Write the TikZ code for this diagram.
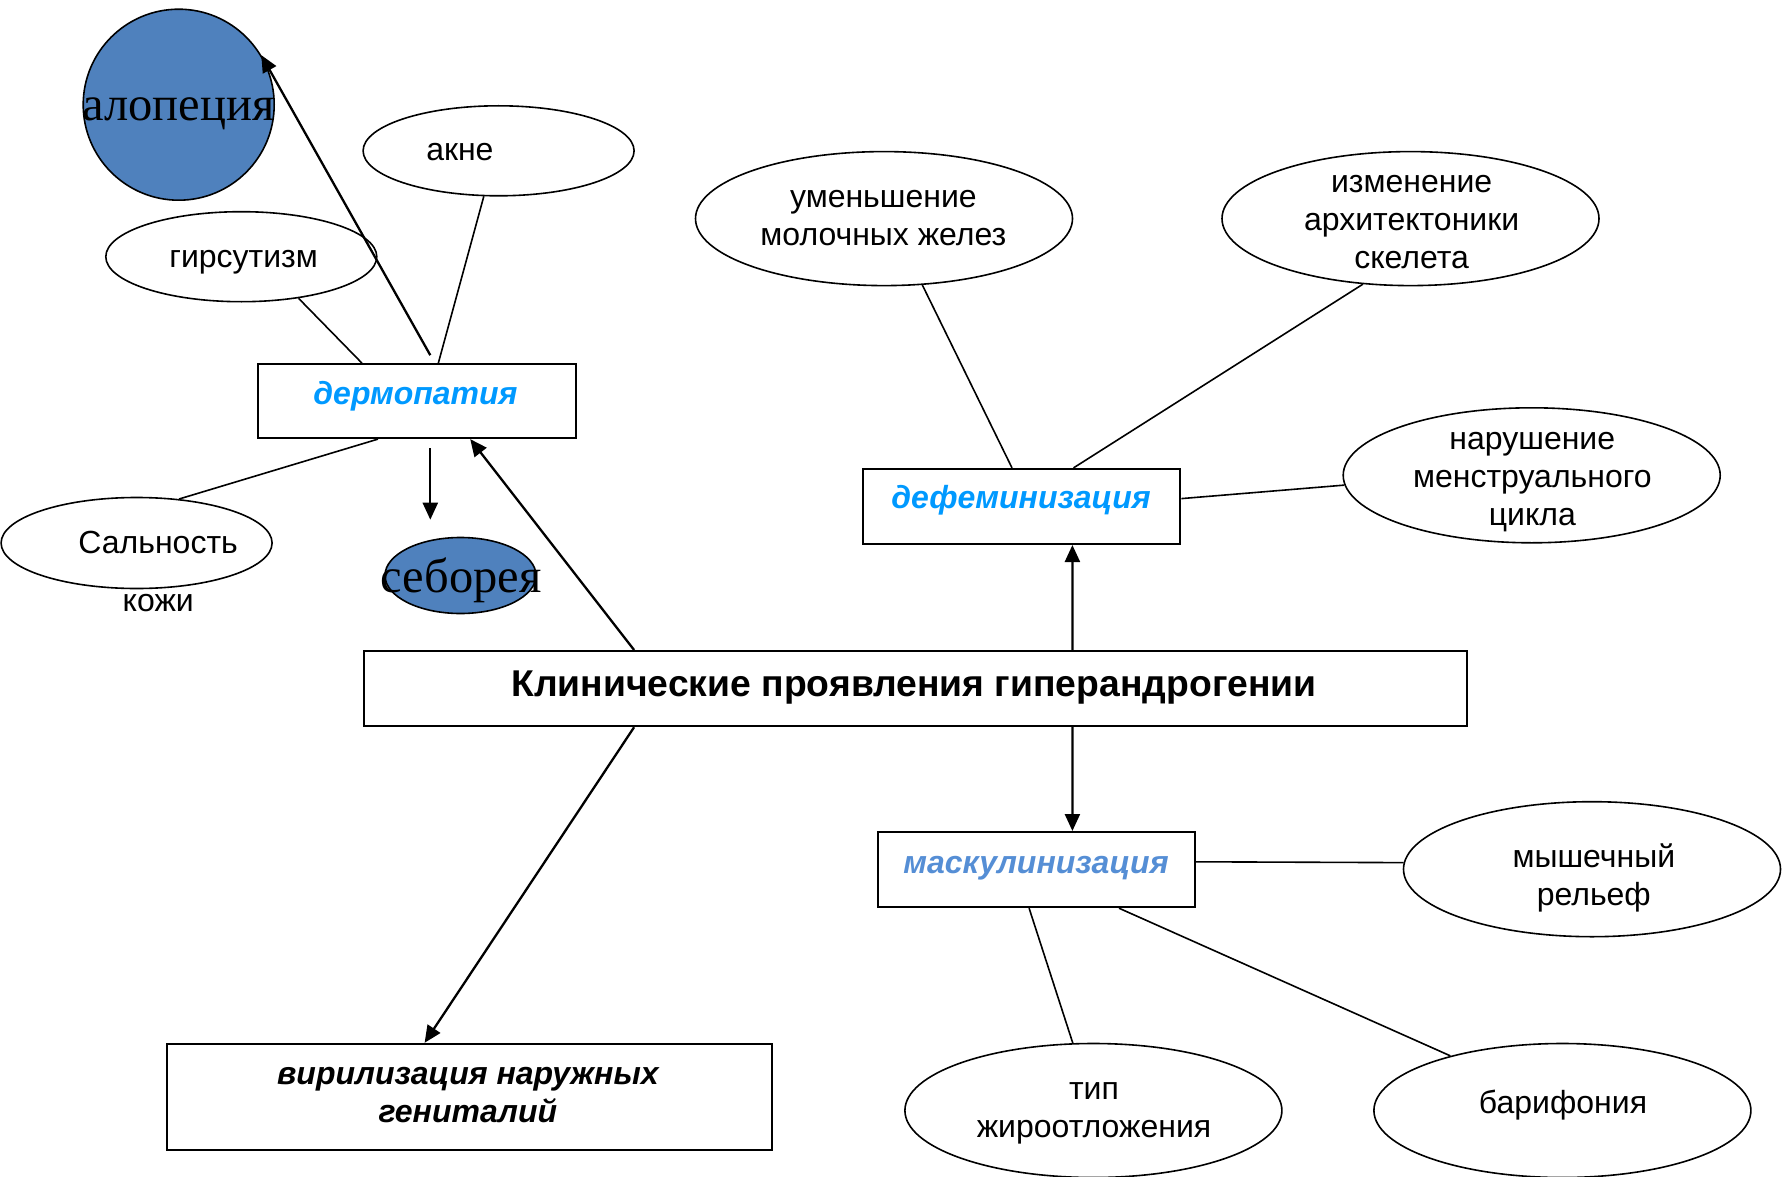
\documentclass[tikz,border=0pt]{standalone}
\usepackage{fontspec}
\setmainfont{Liberation Sans}
\newfontfamily\serifx{Liberation Serif}
\usetikzlibrary{arrows.meta,shapes.geometric}
\definecolor{fillblue}{HTML}{4F81BD}
\definecolor{skyblue}{HTML}{0099FF}
\definecolor{mascblue}{HTML}{558ED5}
\begin{document}
\begin{tikzpicture}[x=1pt,y=-1pt,
  box/.style={draw, line width=2pt, inner sep=0pt, anchor=north west},
  oval/.style={draw, ellipse, line width=1.6pt, inner sep=0pt},
  bluedot/.style={oval, fill=fillblue},
  lbl/.style={font=\fontsize{32}{38}\selectfont, align=center, inner sep=0pt, anchor=base},
  hdr/.style={font=\fontsize{32}{38}\selectfont\bfseries\itshape, align=center, inner sep=0pt, anchor=base},
  big/.style={font=\fontsize{48.5}{58}\serifx, inner sep=0pt, anchor=base},
  link/.style={line width=1.6pt},
  arr/.style={line width=2.3pt, -{Triangle[length=17pt,width=15pt]}},
]
\useasboundingbox (0,0) rectangle (1785,1177);

% ---- shapes ----
\node[bluedot, minimum size=191pt] (alop) at (178.7,104.7) {};
\node[oval, minimum width=271pt, minimum height=90pt] (acne) at (498.6,150.8) {};
\node[oval, minimum width=271pt, minimum height=90pt] (hirs) at (241.3,256.7) {};
\node[oval, minimum width=271pt, minimum height=91pt] (sal) at (136.6,543) {};
\node[bluedot, minimum width=151pt, minimum height=76pt] (seb) at (460.5,575.5) {};
\node[oval, minimum width=377pt, minimum height=134pt] (mam) at (884,218.6) {};
\node[oval, minimum width=377pt, minimum height=134pt] (arch) at (1410.5,218.6) {};
\node[oval, minimum width=377pt, minimum height=135pt] (mens) at (1531.7,475.3) {};
\node[oval, minimum width=377pt, minimum height=135pt] (musc) at (1592,869.2) {};
\node[oval, minimum width=377pt, minimum height=134pt] (fat) at (1093.4,1110.5) {};
\node[oval, minimum width=377pt, minimum height=134pt] (bary) at (1562.4,1110.5) {};

\node[box, minimum width=317.6pt, minimum height=73.9pt] (derm) at (257.3,363.2) {};
\node[box, minimum width=317.6pt, minimum height=75.1pt] (defem) at (861.8,467.9) {};
\node[box, minimum width=317.6pt, minimum height=75.2pt] (masc) at (876.6,831) {};
\node[box, minimum width=1103pt, minimum height=75.2pt] (main) at (363.2,650) {};
\node[box, minimum width=604.5pt, minimum height=105.8pt] (viril) at (166.2,1042.8) {};

% ---- texts ----
\node[big] (alopT) at (178.5,121) {алопеция};
\node[big] (sebT) at (461,592) {себорея};
\node[lbl] (acneT) at (459.9,160.8) {акне};
\node[lbl] (hirsT) at (243.6,267.8) {гирсутизм};
\node[lbl] (salT) at (158.2,553.3) {Сальность};
\node[lbl] (salT2) at (158.2,611.3) {кожи};
\node[lbl] (mamT) at (883.4,245.3) {уменьшение\\молочных желез};
\node[lbl] (archT) at (1411.6,268.3) {изменение\\архитектоники\\скелета};
\node[lbl] (mensT) at (1532.3,525.8) {нарушение\\менструального\\цикла};
\node[lbl] (muscT) at (1593.8,905.6) {мышечный\\рельеф};
\node[lbl] (fatT) at (1094,1137.8) {тип\\жироотложения};
\node[lbl] (baryT) at (1563,1113.3) {барифония};
\node[hdr, text=skyblue] (dermT) at (415.5,404) {дермопатия};
\node[hdr, text=skyblue] (defemT) at (1021.1,508.8) {дефеминизация};
\node[hdr, text=mascblue] (mascT) at (1036,873.1) {маскулинизация};
\node[hdr] (virilT) at (467.9,1122.8) {вирилизация наружных\\гениталий};
\node[font=\fontsize{37.3}{42}\selectfont\bfseries, inner sep=0pt, anchor=base] (mainT) at (914.1,696.3) {Клинические проявления гиперандрогении};

% ---- connectors ----
\coordinate (sebTop) at ([xshift=-30.2pt,yshift=17pt]seb.north);
\draw[link] (hirs.-36) -- ([xshift=104.7pt]derm.north west);
\draw[link] (acne.252) -- ([xshift=181pt]derm.north west);
\draw[arr] ([xshift=173pt,yshift=8pt]derm.north west) -- (alop.31);
\draw[link] (sal.46) -- ([xshift=120.7pt]derm.south west);
\draw[arr] ([xshift=173pt,yshift=-9.2pt]derm.south west) -- (sebTop);
\draw[arr] ([xshift=270.9pt]main.north west) -- ([xshift=212.9pt]derm.south west);
\draw[arr] ([xshift=709.2pt]main.north west) -- ([xshift=210.6pt]defem.south west);
\draw[link] (mam.-60) -- ([xshift=150.2pt]defem.north west);
\draw[link] (arch.234) -- ([xshift=211.7pt]defem.north west);
\draw[link] (mens.183) -- ([yshift=-30.7pt]defem.north east);
\draw[arr] ([xshift=709.2pt]main.south west) -- ([xshift=195.8pt]masc.north west);
\draw[link] ([yshift=-30.8pt]masc.north east) -- (musc.178);
\draw[link] ([xshift=152.5pt]masc.south west) -- (fat.107);
\draw[link] ([xshift=242.4pt]masc.south west) -- (bary.154);
\draw[arr] ([xshift=270.9pt]main.south west) -- ([xshift=258.4pt]viril.north west);
\end{tikzpicture}
\end{document}
